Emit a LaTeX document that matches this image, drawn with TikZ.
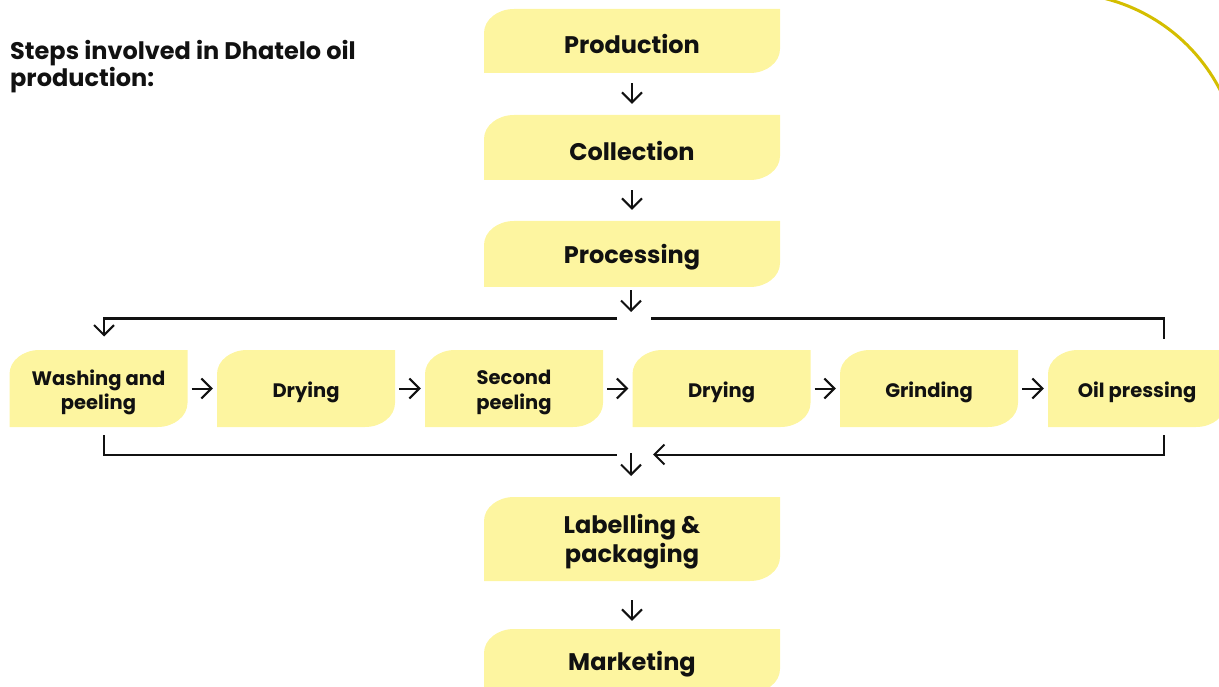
\documentclass[tikz,border=0pt]{standalone}
\usepackage{fontspec}
\setmainfont{Poppins}
\usetikzlibrary{arrows.meta,calc}
\definecolor{leaffill}{HTML}{FDF5A0}
\definecolor{arccol}{HTML}{D4BE00}
\definecolor{ink}{HTML}{111111}
\tikzset{
  leaf/.style={inner sep=0pt, align=center, text=ink,
    path picture={
      \fill[leaffill]
        ([yshift=#1]path picture bounding box.south west)
        -- ([yshift=-24pt]path picture bounding box.north west)
        arc[start angle=180, end angle=90, x radius=30pt, y radius=24pt]
        -- (path picture bounding box.north east)
        -- ([yshift=24pt+#1]path picture bounding box.south east)
        arc[start angle=0, end angle=-90, x radius=30pt, y radius=24pt]
        -- cycle;
    }},
  mainbox/.style={leaf=6pt, minimum width=296pt, font=\fontsize{24}{29}\selectfont\bfseries},
  rowbox/.style={leaf=8pt, minimum width=178pt, minimum height=85pt, font=\fontsize{19.5}{24.5}\selectfont\bfseries},
  conn/.style={draw=ink, line width=2pt},
  arr/.style={conn, -{Straight Barb[length=10pt,width=20pt,line width=2pt]}},
}
\begin{document}
\begin{tikzpicture}[x=1pt,y=-1pt]
\useasboundingbox (0,0) rectangle (1219,687);
\begin{scope}
\clip (0,0) rectangle (1219,687);
\draw[arccol, line width=3pt] (1061,172) ++(76:179pt) arc[start angle=76, end angle=24, radius=179pt];
\end{scope}

\node[anchor=north west, inner sep=0pt, align=left, text=ink, font=\fontsize{24}{27}\selectfont\bfseries] (title) at (10,40) {Steps involved in Dhatelo oil\\production:};

% visible box heights: 64, 65, 66, 84, 64 (node is 6pt taller, extra part unfilled below)
\node[mainbox, minimum height=70pt] (prod) at (632,44) {Production};
\node[mainbox, minimum height=71pt] (coll) at (632,150.5) {Collection};
\node[mainbox, minimum height=72pt] (proc) at (632,257) {Processing};
\node[mainbox, minimum height=90pt] (label) at (632,542) {Labelling \&\\packaging};
\node[mainbox, minimum height=70pt] (mark) at (632,664) {Marketing};

\node[rowbox] (wash) at (98.5,392.5) {Washing and\\peeling};
\node[rowbox] (dry1) at (306,392.5) {Drying};
\node[rowbox] (peel) at (514,392.5) {Second\\peeling};
\node[rowbox] (dry2) at (721.5,392.5) {Drying};
\node[rowbox] (grind) at (929,392.5) {Grinding};
\node[rowbox] (oil) at (1137,392.5) {Oil pressing};

\draw[arr, shorten <=4pt, shorten >=11pt] (prod) -- (coll);
\draw[arr, shorten <=4pt, shorten >=11pt] (coll) -- (proc);
\draw[arr, shorten <=13pt, shorten >=8pt] (label) -- (mark);
\draw[arr, shorten <=4pt, shorten >=4pt] ([yshift=4pt]wash.east) -- ([yshift=4pt]dry1.west);
\draw[arr, shorten <=4pt, shorten >=4pt] ([yshift=4pt]dry1.east) -- ([yshift=4pt]peel.west);
\draw[arr, shorten <=4pt, shorten >=4pt] ([yshift=4pt]peel.east) -- ([yshift=4pt]dry2.west);
\draw[arr, shorten <=4pt, shorten >=4pt] ([yshift=4pt]dry2.east) -- ([yshift=4pt]grind.west);
\draw[arr, shorten <=4pt, shorten >=4pt] ([yshift=4pt]grind.east) -- ([yshift=4pt]oil.west);

% top branch
\coordinate (tsplit) at (631,312);
\coordinate (tl) at (617,318.5);
\coordinate (tr) at (651,318.5);
\coordinate (ore) at (1164,339);
\draw[arr, shorten <=3pt] ([yshift=6pt]proc.south -| tsplit) -- (tsplit);
\draw[arr, shorten >=13pt] (tl) -- (104,318.5) -- (104,349.5);
\draw[conn] (tr) -- (tr -| ore) -- (ore);

% bottom merge
\coordinate (bl) at (617,454.5);
\coordinate (bj) at (631,453);
\coordinate (bt) at (631,476);
\coordinate (br) at (653,454.5);
\coordinate (wlb) at (104,435);
\coordinate (orb) at (1164,435);
\draw[conn] (wlb) -- (wlb |- bl) -- (bl);
\draw[arr] (bj) -- (bt);
\draw[arr] (orb) -- (orb |- br) -- (br);
\end{tikzpicture}
\end{document}
